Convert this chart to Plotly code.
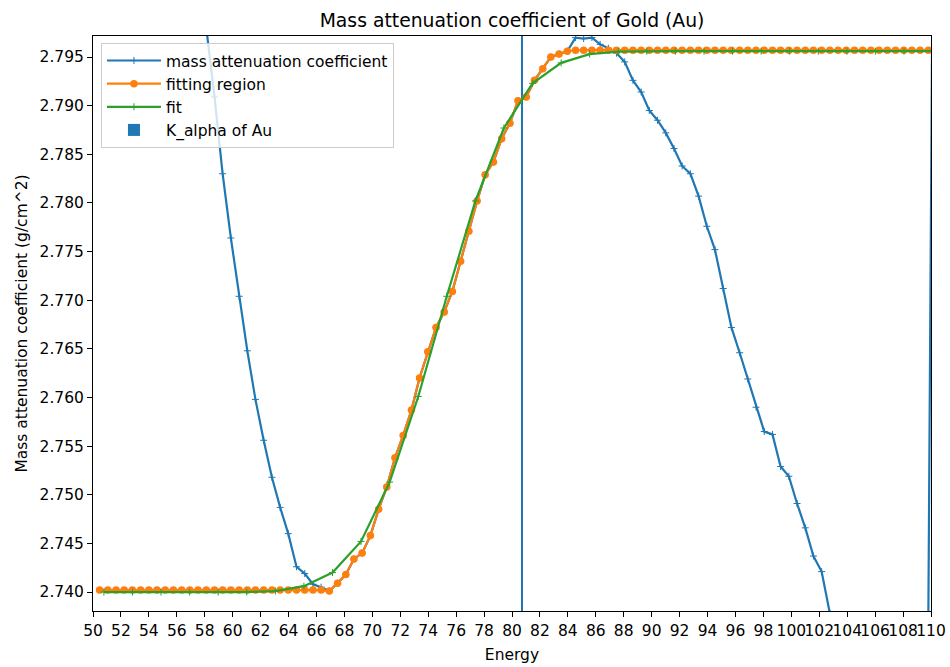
import plotly.graph_objects as go

# Energy grid shared by the measured data and the fitting region
energy = [50.47, 51.06, 51.65, 52.23, 52.82, 53.41, 54.00, 54.58, 55.17, 55.76,
          56.35, 56.93, 57.52, 58.11, 58.70, 59.28, 59.87, 60.46, 61.05, 61.63,
          62.22, 62.81, 63.40, 63.98, 64.57, 65.16, 65.75, 66.33, 66.92, 67.51,
          68.10, 68.68, 69.27, 69.86, 70.45, 71.03, 71.62, 72.21, 72.80, 73.38,
          73.97, 74.56, 75.15, 75.73, 76.32, 76.91, 77.50, 78.08, 78.67, 79.26,
          79.85, 80.43, 81.02, 81.61, 82.20, 82.78, 83.37, 83.96, 84.55, 85.13,
          85.72, 86.31, 86.90, 87.48, 88.07, 88.66, 89.25, 89.83, 90.42, 91.01,
          91.60, 92.18, 92.77, 93.36, 93.95, 94.53, 95.12, 95.71, 96.30, 96.88,
          97.47, 98.06, 98.65, 99.23, 99.82, 100.41, 101.00, 101.58, 102.17, 102.76,
          103.35, 103.93, 104.52, 105.11, 105.70, 106.28, 106.87, 107.46, 108.05, 108.63,
          109.22, 109.81, 110.40]

mass_att = [2.9200, 2.9050, 2.8900, 2.8760, 2.8620, 2.8490, 2.8370, 2.8280, 2.8205, 2.8145,
            2.8090, 2.8045, 2.8010, 2.7980, 2.7909, 2.7830, 2.7764, 2.7704, 2.7648, 2.7598,
            2.7556, 2.7518, 2.7487, 2.7460, 2.7426, 2.7419, 2.7408, 2.7405, 2.7401, 2.7409,
            2.7418, 2.7434, 2.7440, 2.7458, 2.7485, 2.7508, 2.7538, 2.7561, 2.7587, 2.7620,
            2.7647, 2.7672, 2.7688, 2.7709, 2.7740, 2.7771, 2.7802, 2.7829, 2.7842, 2.7866,
            2.7882, 2.7905, 2.7909, 2.7926, 2.7938, 2.7950, 2.7953, 2.7956, 2.7970, 2.7969,
            2.7970, 2.7963, 2.7959, 2.7954, 2.7945, 2.7926, 2.7914, 2.7895, 2.7885, 2.7872,
            2.7856, 2.7838, 2.7830, 2.7807, 2.7776, 2.7752, 2.7712, 2.7672, 2.7646, 2.7619,
            2.7590, 2.7565, 2.7562, 2.7529, 2.7519, 2.7491, 2.7466, 2.7437, 2.7421, 2.7378,
            2.7355, 2.7332, 2.7312, 2.7295, 2.7280, 2.7270, 2.7265, 2.7268, 2.7282, 2.7308,
            2.7342, 2.7376, 2.8680]

fit_region = [2.7402, 2.7402, 2.7402, 2.7402, 2.7402, 2.7402, 2.7402, 2.7402, 2.7402, 2.7402,
              2.7402, 2.7402, 2.7402, 2.7402, 2.7402, 2.7402, 2.7402, 2.7402, 2.7402, 2.7402,
              2.7402, 2.7402, 2.7402, 2.7402, 2.7402, 2.7402, 2.7402, 2.7402, 2.7401, 2.7409,
              2.7418, 2.7434, 2.7440, 2.7458, 2.7485, 2.7508, 2.7538, 2.7561, 2.7587, 2.7620,
              2.7647, 2.7672, 2.7688, 2.7709, 2.7740, 2.7771, 2.7802, 2.7829, 2.7842, 2.7866,
              2.7882, 2.7905, 2.7909, 2.7926, 2.7938, 2.7950, 2.7953, 2.7956, 2.7957, 2.7957,
              2.7957, 2.7957, 2.7957, 2.7957, 2.7957, 2.7957, 2.7957, 2.7957, 2.7957, 2.7957,
              2.7957, 2.7957, 2.7957, 2.7957, 2.7957, 2.7957, 2.7957, 2.7957, 2.7957, 2.7957,
              2.7957, 2.7957, 2.7957, 2.7957, 2.7957, 2.7957, 2.7957, 2.7957, 2.7957, 2.7957,
              2.7957, 2.7957, 2.7957, 2.7957, 2.7957, 2.7957, 2.7957, 2.7957, 2.7957, 2.7957,
              2.7957, 2.7957]

fit_energy = [50.78, 52.83, 54.87, 56.92, 58.96, 61.01, 63.06, 65.10, 67.15, 69.19,
              71.24, 73.29, 75.33, 77.38, 79.42, 81.47, 83.52, 85.56, 87.61, 89.65,
              91.70, 93.75, 95.79, 97.84, 99.88, 101.93, 103.98, 106.02, 108.07, 110.11]
fit_values = [2.7400, 2.7400, 2.7400, 2.7400, 2.7400, 2.7400, 2.7401, 2.7406, 2.7420, 2.7452,
              2.7513, 2.7601, 2.7704, 2.7802, 2.7877, 2.7923, 2.7944, 2.7953, 2.79555, 2.7956,
              2.7956, 2.7956, 2.7956, 2.7956, 2.7956, 2.7956, 2.7956, 2.7956, 2.7956, 2.7956]

k_alpha_energy = [80.725]
k_alpha_height = [3.0]

x_ticks = list(range(50, 111, 2))
y_ticks = [2.740, 2.745, 2.750, 2.755, 2.760, 2.765, 2.770, 2.775, 2.780, 2.785, 2.790, 2.795]

C0, C1, C2 = "#1f77b4", "#ff7f0e", "#2ca02c"
FONT = "DejaVu Sans"
FS = 15.5

fig = go.Figure()
fig.add_trace(go.Scatter(
    x=energy, y=mass_att, mode="lines+markers", name="mass attenuation coefficient",
    line=dict(color=C0, width=2.2),
    marker=dict(symbol="cross-thin", size=5, color=C0, line=dict(width=1, color=C0)),
))
fig.add_trace(go.Scatter(
    x=energy[:len(fit_region)], y=fit_region, mode="lines+markers", name="fitting region",
    line=dict(color=C1, width=2.2),
    marker=dict(symbol="circle", size=7.5, color=C1),
))
fig.add_trace(go.Scatter(
    x=fit_energy, y=fit_values, mode="lines+markers", name="fit",
    line=dict(color=C2, width=2.2),
    marker=dict(symbol="cross-thin", size=5, color=C2, line=dict(width=1, color=C2)),
))
fig.add_trace(go.Bar(
    x=k_alpha_energy, y=k_alpha_height, width=0.09, name="K_alpha of Au",
    marker=dict(color=C0, line=dict(width=0)),
))

axis_common = dict(
    showline=True, linecolor="black", linewidth=1, mirror=True,
    ticks="outside", ticklen=5, tickwidth=1, tickcolor="black",
    showgrid=False, zeroline=False, automargin=False,
    tickfont=dict(family=FONT, size=FS, color="black"),
)

fig.update_layout(
    width=950, height=667,
    margin=dict(l=93, r=19, t=36, b=56),
    paper_bgcolor="white", plot_bgcolor="white",
    font=dict(family=FONT, size=FS, color="black"),
    title=dict(text="Mass attenuation coefficient of Gold (Au)", x=0.539, xanchor="center",
               y=0.970, yanchor="middle", yref="container",
               font=dict(family=FONT, size=18.8, color="black")),
    showlegend=True,
    legend=dict(x=0.0095, y=0.988, xanchor="left", yanchor="top",
                bgcolor="rgba(255,255,255,0.8)", bordercolor="#cccccc", borderwidth=1,
                itemwidth=54,
                font=dict(family=FONT, size=FS, color="black"), traceorder="normal"),
    xaxis=dict(range=[50, 110], tickvals=x_ticks, ticktext=[str(v) for v in x_ticks],
               tickangle=0,
               title=dict(text="Energy", font=dict(family=FONT, size=FS), standoff=10),
               **axis_common),
    yaxis=dict(range=[2.73805, 2.79716], tickvals=y_ticks,
               ticktext=[f"{v:.3f}" for v in y_ticks],
               title=dict(text="Mass attenuation coefficient (g/cm^2)",
                          font=dict(family=FONT, size=FS), standoff=8),
               **axis_common),
    bargap=0,
)

fig.write_html("out.html")
